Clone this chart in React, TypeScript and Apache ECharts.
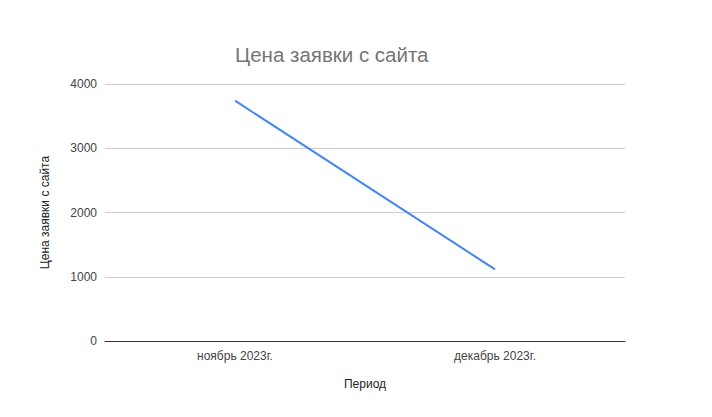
import React, { useEffect, useRef } from "react";
import * as echarts from "echarts";

const categories = ["ноябрь 2023г.", "декабрь 2023г."];
const values = [3740, 1115];
const yTicks = [0, 1000, 2000, 3000, 4000];

export default function App() {
  const ref = useRef<HTMLDivElement>(null);
  useEffect(() => {
    if (!ref.current) return;
    const chart = echarts.init(ref.current, null, { renderer: "svg" });
    chart.setOption({
      animation: false,
      backgroundColor: "#ffffff",
      textStyle: { fontFamily: "Liberation Sans, Arial, sans-serif" },
      title: {
        text: "Цена заявки с сайта",
        left: 230,
        top: 39,
        textStyle: { fontSize: 20.5, fontWeight: "normal", color: "#757575", fontFamily: "Liberation Sans, Arial, sans-serif" },
      },
      grid: { left: 105, right: 87, top: 84, bottom: 76, containLabel: false },
      xAxis: {
        type: "category",
        data: categories,
        boundaryGap: true,
        name: "Период",
        nameLocation: "middle",
        nameGap: 37,
        nameTextStyle: { fontSize: 12, color: "#222" },
        axisLine: { lineStyle: { color: "#333", width: 1 } },
        axisTick: { show: false },
        axisLabel: { fontSize: 12, color: "#444", margin: 9 },
        splitLine: { show: false },
      },
      yAxis: {
        type: "value",
        min: yTicks[0],
        max: yTicks[yTicks.length - 1],
        interval: 1000,
        name: "Цена заявки с сайта",
        nameLocation: "middle",
        nameGap: 54,
        nameTextStyle: { fontSize: 12, color: "#222" },
        axisLine: { show: false },
        axisTick: { show: false },
        axisLabel: { fontSize: 12, color: "#444", margin: 8, formatter: (v: number) => String(v) },
        splitLine: { lineStyle: { color: "#cccccc", width: 1 } },
      },
      series: [
        {
          type: "line",
          data: values,
          showSymbol: false,
          symbol: "none",
          lineStyle: { color: "#4285f4", width: 2 },
          itemStyle: { color: "#4285f4" },
        },
      ],
    });
    return () => chart.dispose();
  }, []);
  return <div ref={ref} style={{ width: 712, height: 417, position: "absolute", left: 0, top: 0 }} />;
}
